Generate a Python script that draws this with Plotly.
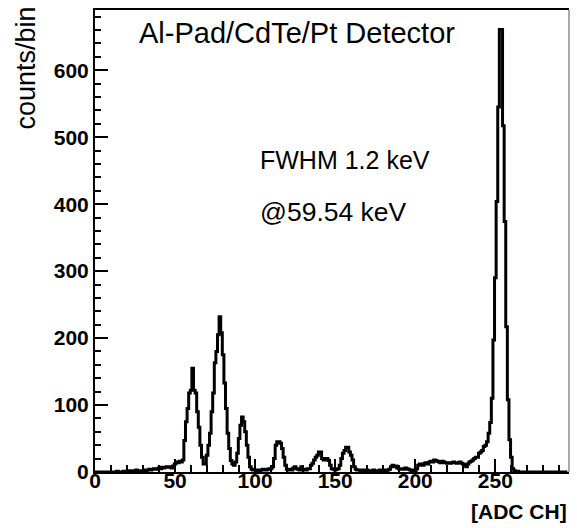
import plotly.graph_objects as go

# ADC channel numbers (bin centres) and counts per bin
channels = list(range(0, 296))
counts = [
    # 0-9
    0, 0, 0, 0, 0, 0, 0, 0, 0, 0,
    # 10-19
    0, 0, 0, 0, 1, 0, 0, 0, 1, 0,
    # 20-29
    1, 0, 2, 1, 1, 2, 3, 2, 1, 2,
    # 30-39
    2, 3, 2, 3, 4, 3, 4, 5, 4, 5,
    # 40-49
    6, 5, 7, 6, 7, 8, 7, 8, 6, 9,
    # 50-59
    12, 15, 14, 16, 15, 18, 47, 75, 95, 118,
    # 60-69
    122, 155, 122, 118, 90, 67, 40, 22, 12, 12,
    # 70-79
    25, 40, 58, 90, 118, 163, 180, 205, 232, 208,
    # 80-89
    175, 133, 95, 58, 35, 17, 12, 10, 15, 28,
    # 90-99
    50, 70, 82, 75, 60, 40, 22, 8, 4, 3,
    # 100-109
    3, 2, 3, 2, 3, 4, 3, 3, 4, 5,
    # 110-119
    5, 8, 20, 40, 45, 45, 43, 35, 22, 10,
    # 120-129
    4, 3, 4, 3, 6, 8, 5, 4, 3, 8,
    # 130-139
    3, 4, 3, 5, 5, 10, 13, 18, 22, 25,
    # 140-149
    30, 30, 20, 18, 20, 20, 17, 10, 5, 4,
    # 150-159
    3, 4, 5, 10, 20, 28, 32, 37, 37, 30,
    # 160-169
    25, 18, 8, 4, 3, 3, 2, 2, 3, 2,
    # 170-179
    3, 2, 2, 2, 3, 2, 1, 2, 3, 2,
    # 180-189
    2, 3, 2, 3, 4, 8, 10, 8, 9, 6,
    # 190-199
    5, 4, 5, 4, 6, 5, 4, 3, 2, 3,
    # 200-209
    2, 5, 10, 12, 11, 10, 13, 14, 12, 15,
    # 210-219
    16, 15, 18, 17, 16, 15, 14, 16, 15, 14,
    # 220-229
    13, 14, 13, 14, 15, 14, 13, 14, 15, 13,
    # 230-239
    12, 10, 8, 12, 15, 16, 18, 20, 22, 22,
    # 240-249
    28, 30, 32, 38, 40, 45, 58, 74, 110, 197,
    # 250-259
    290, 404, 545, 661, 661, 517, 374, 217, 108, 48,
    # 260-269
    22, 5, 2, 1, 1, 0, 0, 0, 0, 0,
    # 270-279
    0, 0, 0, 0, 0, 0, 0, 0, 0, 0,
    # 280-289
    0, 0, 0, 0, 0, 0, 0, 0, 0, 0,
    # 290-295
    0, 0, 0, 0, 0, 0,
]

x_ticks = [0, 50, 100, 150, 200, 250]
y_ticks = [0, 100, 200, 300, 400, 500, 600]

title_text = "Al-Pad/CdTe/Pt Detector"
fwhm_text = "FWHM 1.2 keV"
energy_text = "@59.54 keV"
x_title = "[ADC CH]"
y_title = "counts/bin"

FONT = "Liberation Sans, Arial, Helvetica, sans-serif"

fig = go.Figure()
fig.add_trace(go.Scatter(
    x=channels, y=counts, mode="lines",
    line=dict(shape="hvh", color="black", width=3),
    hoverinfo="skip", showlegend=False,
))

fig.update_layout(
    width=577, height=528,
    margin=dict(l=95, r=8, t=10, b=56),
    paper_bgcolor="white", plot_bgcolor="white",
    font=dict(family=FONT, color="black"),
    showlegend=False,
    xaxis=dict(
        range=[0, 296], tickmode="array", tickvals=x_ticks,
        ticks="inside", ticklen=13, tickwidth=2, tickcolor="black",
        minor=dict(dtick=10, tick0=0, ticks="inside", ticklen=7, tickwidth=1.5, tickcolor="black"),
        showgrid=False, zeroline=False,
        showline=True, linecolor="black", linewidth=2, mirror=True,
        tickfont=dict(family=FONT, size=21, color="black", weight="bold"),
        ticklabelstandoff=-11,
    ),
    yaxis=dict(
        range=[0, 690], tickmode="array", tickvals=y_ticks,
        ticks="inside", ticklen=13, tickwidth=2, tickcolor="black",
        minor=dict(dtick=20, tick0=0, ticks="inside", ticklen=6, tickwidth=1.5, tickcolor="black"),
        showgrid=False, zeroline=False,
        showline=True, linecolor="black", linewidth=2,
        tickfont=dict(family=FONT, size=21, color="black", weight="bold"),
    ),
    shapes=[dict(type="line", xref="paper", yref="paper", x0=1, x1=1, y0=0, y1=1,
                 line=dict(color="#555555", width=1))],
    annotations=[
        dict(text=title_text, xref="paper", yref="paper", x=(137 - 95) / 474, y=1 - (33 - 10) / 462,
             xanchor="left", yanchor="middle", showarrow=False,
             font=dict(family=FONT, size=29, color="black")),
        dict(text=fwhm_text, xref="paper", yref="paper", x=(258 - 95) / 474, y=1 - (160 - 10) / 462,
             xanchor="left", yanchor="middle", showarrow=False,
             font=dict(family=FONT, size=25, color="black")),
        dict(text=energy_text, xref="paper", yref="paper", x=(258 - 95) / 474, y=1 - (212 - 10) / 462,
             xanchor="left", yanchor="middle", showarrow=False,
             font=dict(family=FONT, size=26.5, color="black")),
        dict(text=x_title, xref="paper", yref="paper", x=1, y=-(511 - 472) / 462,
             xanchor="right", yanchor="middle", showarrow=False,
             font=dict(family=FONT, size=21, color="black", weight="bold")),
        dict(text=y_title, xref="paper", yref="paper", x=-(95 - 26) / 474, y=1 + 5 / 462,
             xanchor="center", yanchor="top", textangle=-90, showarrow=False,
             font=dict(family=FONT, size=27, color="black")),
    ],
)

fig.write_html("out.html")
